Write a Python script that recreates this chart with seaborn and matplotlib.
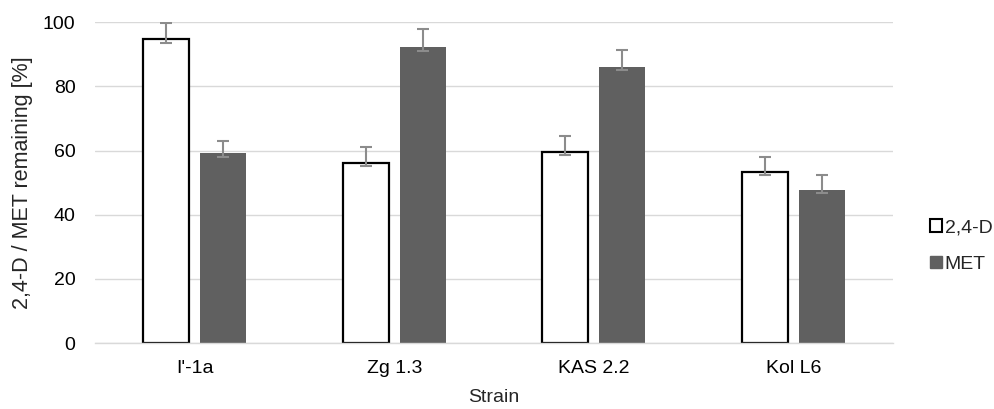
import numpy as np
import pandas as pd
import matplotlib
matplotlib.use("Agg")
import matplotlib.pyplot as plt
import seaborn as sns
from matplotlib.patches import Patch

strains = ["I'-1a", "Zg 1.3", "KAS 2.2", "Kol L6"]
series = ["2,4-D", "MET"]
d24_values = [94.6, 56.1, 59.5, 53.3]
met_values = [59.3, 92.1, 86.0, 47.7]
d24_err_up = [5.0, 4.9, 5.0, 4.7]
d24_err_low = [1.1, 1.0, 0.9, 1.0]
met_err_up = [3.6, 5.8, 5.3, 4.6]
met_err_low = [1.2, 1.1, 1.0, 1.0]

df = pd.DataFrame({
    "Strain": strains * 2,
    "Series": [series[0]] * 4 + [series[1]] * 4,
    "Value": d24_values + met_values,
})

sns.set_theme(style="white")
plt.rcParams['font.family'] = ['Liberation Sans', 'DejaVu Sans']

fig = plt.figure(figsize=(9.94, 4.09), dpi=100)
ax = fig.add_axes([0.0956, 0.161, 0.8028, 0.785])

colors = {"2,4-D": "white", "MET": "#606060"}
sns.barplot(data=df, x="Strain", y="Value", hue="Series", order=strains,
            hue_order=series, palette=colors, width=0.572, gap=0.196,
            ax=ax, legend=False, errorbar=None)

containers = ax.containers
for bar in containers[0]:
    bar.set_edgecolor("black")
    bar.set_linewidth(1.6)
for bar in containers[1]:
    bar.set_edgecolor("#606060")
    bar.set_linewidth(0)

for cont, vals, lo, up in [(containers[0], d24_values, d24_err_low, d24_err_up),
                           (containers[1], met_values, met_err_low, met_err_up)]:
    xs = [b.get_x() + b.get_width() / 2 for b in cont]
    ax.errorbar(xs, vals, yerr=[lo, up], fmt="none", ecolor="#8c8c8c",
                elinewidth=1.5, capsize=4.5, capthick=1.5, zorder=5)

ax.set_ylim(0, 100)
ax.set_xlim(-0.5, 3.5)
ax.set_yticks([0, 20, 40, 60, 80, 100])
ax.yaxis.grid(True, color="#d9d9d9", linewidth=1)
ax.set_axisbelow(True)
for s in ["top", "right", "left"]:
    ax.spines[s].set_visible(False)
ax.spines["bottom"].set_color("#d9d9d9")
ax.spines["bottom"].set_linewidth(1)
ax.tick_params(axis="both", length=0, labelsize=14, colors="black")
ax.tick_params(axis="y", pad=14)
ax.tick_params(axis="x", pad=12)
ax.set_xlabel("Strain", fontsize=14, labelpad=9)
ax.set_ylabel("2,4-D / MET remaining [%]", fontsize=15.5, labelpad=7)

handles = [Patch(facecolor="white", edgecolor="black", linewidth=1.5, label="2,4-D"),
           Patch(facecolor="#606060", edgecolor="#606060", label="MET")]
fig.legend(handles=handles, loc="center left", bbox_to_anchor=(0.918, 0.398),
           frameon=False, fontsize=14, handlelength=0.6, handleheight=0.6,
           handletextpad=0.15, labelspacing=1.0)

fig.savefig("out.png", dpi=100)
